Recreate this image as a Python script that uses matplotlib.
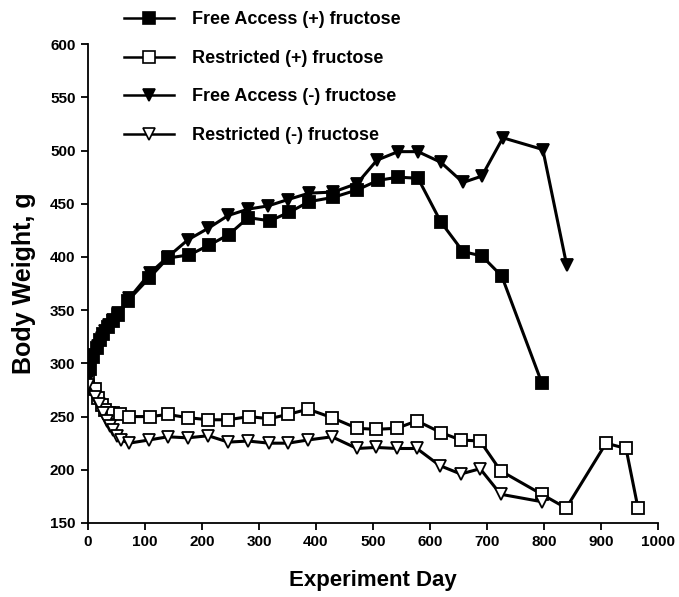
import matplotlib
matplotlib.use("Agg")
import matplotlib.pyplot as plt

plt.rcParams['font.family'] = ['Liberation Sans', 'DejaVu Sans']

# ---- data (day, body weight g)
fa_plus_day = [0, 3, 8, 16, 21, 26, 35, 44, 53, 70, 107, 140, 178, 212, 247, 281,
               319, 353, 388, 430, 472, 509, 544, 579, 619, 658, 691, 726, 796]
fa_plus_wt = [278, 295, 306, 314, 322, 328, 334, 340, 345, 359, 380, 399, 402, 411, 421, 437,
              434, 442, 452, 456, 463, 472, 475, 474, 433, 405, 401, 382, 282]

rs_plus_day = [0, 12, 18, 24, 30, 37, 44, 56, 72, 109, 140, 175, 211, 246, 282, 318,
               351, 386, 428, 472, 505, 542, 577, 619, 654, 688, 724, 796, 839, 909, 944, 965]
rs_plus_wt = [285, 276, 267, 261, 256, 253, 253, 252, 250, 250, 252, 249, 247, 247, 250, 248,
              252, 257, 249, 239, 238, 239, 246, 235, 228, 227, 199, 177, 164, 225, 220, 164]

fa_minus_day = [0, 3, 9, 18, 24, 30, 37, 44, 53, 72, 109, 140, 175, 211, 246, 281,
                316, 351, 388, 430, 472, 507, 544, 579, 619, 658, 691, 728, 798, 840]
fa_minus_wt = [285, 300, 308, 316, 324, 330, 336, 341, 347, 361, 385, 400, 416, 427, 439, 445,
               448, 454, 460, 461, 469, 491, 499, 499, 489, 470, 476, 512, 501, 392]

rs_minus_day = [0, 12, 19, 26, 33, 39, 44, 51, 58, 72, 107, 140, 175, 211, 246, 281,
                318, 351, 386, 428, 472, 505, 542, 577, 617, 654, 688, 724, 796]
rs_minus_wt = [280, 268, 262, 253, 246, 241, 237, 232, 228, 225, 228, 231, 230, 232, 226, 227,
               225, 225, 228, 231, 220, 221, 220, 220, 204, 196, 201, 177, 170]

fig = plt.figure(figsize=(6.79, 5.97), dpi=100)
ax = fig.add_axes([0.1296, 0.124, 0.8394, 0.802])

kw = dict(color='black', linewidth=2.2, markersize=8.5, markeredgewidth=1.3)
ax.plot(fa_plus_day, fa_plus_wt, marker='s', markerfacecolor='black', **kw)
ax.plot(rs_plus_day, rs_plus_wt, marker='s', markerfacecolor='white', **kw)
ax.plot(fa_minus_day, fa_minus_wt, marker='v', markerfacecolor='black', **kw)
ax.plot(rs_minus_day, rs_minus_wt, marker='v', markerfacecolor='white', **kw)

ax.set_xlim(0, 1000)
ax.set_ylim(150, 600)
ax.set_xticks(range(0, 1001, 100))
ax.set_yticks(range(150, 601, 50))
ax.spines['top'].set_visible(False)
ax.spines['right'].set_visible(False)
ax.spines['left'].set_linewidth(1.3)
ax.spines['bottom'].set_linewidth(1.3)
ax.tick_params(direction='out', length=5, width=1.3, labelsize=11, pad=4)
for lab in ax.get_xticklabels() + ax.get_yticklabels():
    lab.set_fontweight('bold')

ax.set_xlabel('Experiment Day', fontsize=16, fontweight='bold', labelpad=15)
ax.set_ylabel('Body Weight, g', fontsize=18, fontweight='bold', labelpad=10)

leg_kw = dict(color='black', linewidth=1.8, markersize=9, markeredgewidth=1.2)
h1 = plt.Line2D([], [], marker='s', markerfacecolor='black', **leg_kw)
h2 = plt.Line2D([], [], marker='s', markerfacecolor='white', **leg_kw)
h3 = plt.Line2D([], [], marker='v', markerfacecolor='black', **leg_kw)
h4 = plt.Line2D([], [], marker='v', markerfacecolor='white', **leg_kw)
fig.legend([h1, h2, h3, h4],
           ['Free Access (+) fructose', 'Restricted (+) fructose',
            'Free Access (-) fructose', 'Restricted (-) fructose'],
           loc='upper left', bbox_to_anchor=(0.158, 1.008), frameon=False,
           handlelength=2.8, labelspacing=1.19, handletextpad=1.0,
           prop={'weight': 'bold', 'size': 13})

fig.savefig('out.png', dpi=100)
